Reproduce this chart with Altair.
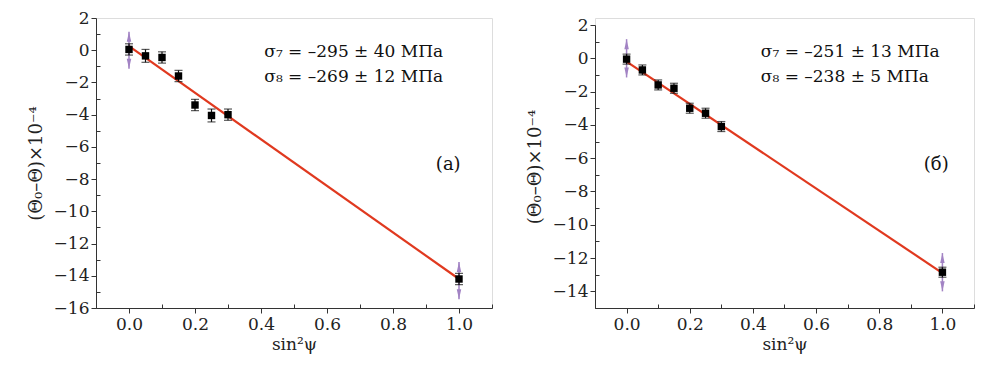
import altair as alt
import pandas as pd

# ---------------- data ----------------
sin2psi = [0.0, 0.05, 0.10, 0.15, 0.20, 0.25, 0.30, 1.0]

# panel (a)
dtheta_a = [0.05, -0.35, -0.45, -1.6, -3.4, -4.05, -4.0, -14.2]
err_a = [0.35, 0.4, 0.35, 0.35, 0.35, 0.4, 0.35, 0.35]
fit_x = [0.0, 1.0]
fit_a = [0.25, -14.2]
arrow_x = [0.0, 1.0]
arrow_a = [0.0, -14.3]
texts_a = ["σ₇ = –295 ± 40 МПа", "σ₈ = –269 ± 12 МПа"]
text_pos_a = [(0.41, -0.1), (0.41, -1.65)]
label_a = "(а)"
label_pos_a = (1.005, -7.1)

# panel (б)
dtheta_b = [-0.05, -0.7, -1.6, -1.8, -3.0, -3.3, -4.1, -12.85]
err_b = [0.3, 0.3, 0.3, 0.3, 0.3, 0.3, 0.3, 0.3]
fit_b = [-0.2, -12.9]
arrow_b = [0.0, -12.85]
texts_b = ["σ₇ = –251 ± 13 МПа", "σ₈ = –238 ± 5 МПа"]
text_pos_b = [(0.425, 0.4), (0.425, -1.1)]
label_b = "(б)"
label_pos_b = (1.02, -6.4)

arrow_half = 1.15

FONT = "DejaVu Serif"
RED = "#e0391f"
PURPLE = "#a283c4"

x_major = [0.0, 0.2, 0.4, 0.6, 0.8, 1.0]
x_minor = [-0.1, 0.1, 0.3, 0.5, 0.7, 0.9, 1.1]


def panel(ys, errs, fit, arr, ydom, ymajor, yminor, texts, tpos, label, lpos, w, h, yrange):
    xs = alt.Scale(domain=[-0.1, 1.1], nice=False, zero=False)
    ysc = alt.Scale(domain=ydom, nice=False, zero=False, range=yrange)

    pts = pd.DataFrame({"x": sin2psi, "y": ys,
                        "lo": [a - b for a, b in zip(ys, errs)],
                        "hi": [a + b for a, b in zip(ys, errs)]})
    fitdf = pd.DataFrame({"x": fit_x, "y": fit})
    arrdf = pd.DataFrame({"x": arrow_x, "y": arr,
                          "top": [v + arrow_half for v in arr],
                          "bot": [v - arrow_half for v in arr]})
    txtdf = pd.DataFrame({"x": [p[0] for p in tpos], "y": [p[1] for p in tpos], "t": texts})
    labdf = pd.DataFrame({"x": [lpos[0]], "y": [lpos[1]], "t": [label]})

    main_x_axis = alt.Axis(values=x_major, format=".1f", title="sin²ψ",
                           labelFont=FONT, labelFontSize=17, titleFont=FONT,
                           titleFontSize=17, titleFontWeight="normal", titleColor="#222",
                           labelColor="#222", domainColor="#333", tickColor="#333",
                           tickSize=5, labelPadding=3, titlePadding=4, grid=False)
    main_y_axis = alt.Axis(values=ymajor, format="d", title="(Θ₀–Θ)×10⁻⁴",
                           labelFont=FONT, labelFontSize=17, titleFont=FONT,
                           titleFontSize=18, titleFontWeight="normal", titleColor="#222",
                           labelColor="#222", domainColor="#333", tickColor="#333",
                           tickSize=5, labelPadding=2, titlePadding=8, grid=False)

    base_axes = alt.Chart(fitdf).mark_line(color=RED, strokeWidth=2.2).encode(
        x=alt.X("x:Q", scale=xs, axis=main_x_axis),
        y=alt.Y("y:Q", scale=ysc, axis=main_y_axis),
    )
    minor = alt.Chart(pd.DataFrame({"x": [0.0], "y": [0.0]})).mark_point(opacity=0).encode(
        x=alt.X("x:Q", scale=xs, axis=alt.Axis(orient="top", offset=-h, values=x_minor,
                                               labels=False, domain=False, title=None,
                                               tickSize=4, tickColor="#333", grid=False)),
        y=alt.Y("y:Q", scale=ysc, axis=alt.Axis(orient="right", offset=-w, values=yminor,
                                                labels=False, domain=False, title=None,
                                                tickSize=4, tickColor="#333", grid=False)),
    )
    shaft = alt.Chart(arrdf).mark_rule(color=PURPLE, strokeWidth=1.5).encode(
        x=alt.X("x:Q", scale=xs, axis=None),
        y=alt.Y("bot:Q", scale=ysc, axis=None), y2="top:Q")
    head_up = alt.Chart(arrdf).mark_point(shape="M0,-1L0.45,1L-0.45,1Z", filled=True,
                                          color=PURPLE, opacity=1, size=100).encode(
        x=alt.X("x:Q", scale=xs, axis=None),
        y=alt.Y("top:Q", scale=ysc, axis=None), yOffset=alt.value(5))
    head_dn = alt.Chart(arrdf).mark_point(shape="M0,1L0.45,-1L-0.45,-1Z", filled=True,
                                          color=PURPLE, opacity=1, size=100).encode(
        x=alt.X("x:Q", scale=xs, axis=None),
        y=alt.Y("bot:Q", scale=ysc, axis=None), yOffset=alt.value(-5))
    ebar = alt.Chart(pts).mark_errorbar(ticks=alt.TickConfig(size=8, thickness=1.2, color="#111"),
                                        rule=alt.MarkConfig(strokeWidth=1.2), color="#111").encode(
        x=alt.X("x:Q", scale=xs, axis=None),
        y=alt.Y("lo:Q", scale=ysc, axis=None, title=None), y2="hi:Q")
    sq = alt.Chart(pts).mark_square(color="#000", opacity=1, size=55).encode(
        x=alt.X("x:Q", scale=xs, axis=None),
        y=alt.Y("y:Q", scale=ysc, axis=None))
    txt = alt.Chart(txtdf).mark_text(font=FONT, fontSize=17, align="left",
                                     baseline="middle", color="#111").encode(
        x=alt.X("x:Q", scale=xs, axis=None),
        y=alt.Y("y:Q", scale=ysc, axis=None), text="t:N")
    lab = alt.Chart(labdf).mark_text(font=FONT, fontSize=18, align="right",
                                     baseline="middle", color="#111").encode(
        x=alt.X("x:Q", scale=xs, axis=None),
        y=alt.Y("y:Q", scale=ysc, axis=None), text="t:N")

    return alt.layer(minor, shaft, head_up, head_dn, base_axes, ebar, sq, txt, lab).resolve_axis(
        x="independent", y="independent").properties(width=w, height=h)


left = panel(dtheta_a, err_a, fit_a, arrow_a, [-16, 2], list(range(-16, 3, 2)),
             list(range(-15, 2, 2)), texts_a, text_pos_a, label_a, label_pos_a, 396, 290,
             [290, 0])
right = panel(dtheta_b, err_b, fit_b, arrow_b, [-15, 2], list(range(-14, 3, 2)),
              list(range(-15, 2, 2)), texts_b, text_pos_b, label_b, label_pos_b, 379, 290,
              [290, 7])

chart = alt.hconcat(left, right, spacing=32).properties(
    padding={"left": 18, "top": 0, "right": 5, "bottom": 5}
).configure_view(stroke=None).configure(background="white")

chart.save("out.html", embed_options={"renderer": "svg", "actions": False})
